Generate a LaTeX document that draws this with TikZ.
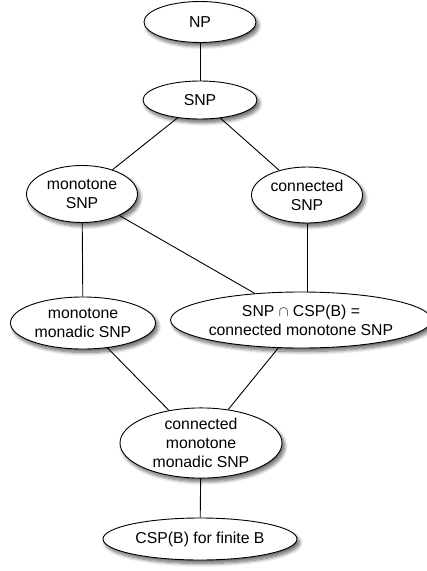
\documentclass[tikz,border=0pt]{standalone}
\usepackage{fontspec}
\setmainfont{Liberation Sans}
\usetikzlibrary{shapes.geometric,shadows.blur}
\begin{document}
\begin{tikzpicture}[x=1pt,y=-1pt,
  ell/.style={ellipse,draw,line width=0.9pt,fill=white,inner sep=0pt,
    align=center,font=\fontsize{15.8}{19}\selectfont,
    blur shadow={shadow xshift=2.5pt,shadow yshift=-3.5pt,shadow blur radius=3.5pt,shadow blur steps=8,shadow opacity=60}},
  conn/.style={line width=0.9pt}]
\useasboundingbox (0,0) rectangle (427,571);
\node[ell,minimum width=112pt,minimum height=41pt] (np) at (200,22) {NP};
\node[ell,minimum width=114pt,minimum height=38pt] (snp) at (200,100) {SNP};
\node[ell,minimum width=111pt,minimum height=57pt] (mono) at (82,194) {monotone\\SNP};
\node[ell,minimum width=111pt,minimum height=56pt] (csnp) at (307,195) {connected\\SNP};
\node[ell,minimum width=145pt,minimum height=52pt] (mm) at (83,323) {monotone\\monadic SNP};
\node[ell,minimum width=237pt,minimum height=56pt] (inter) at (301,320) {SNP $\cap$ CSP(B) =\\connected monotone SNP};
\node[ell,minimum width=162pt,minimum height=70pt] (cmm) at (201,443) {connected\\monotone\\monadic SNP};
\node[ell,minimum width=194pt,minimum height=42pt] (csp) at (200,539) {CSP(B) for finite B};
\draw[conn] (np) -- (snp);
\draw[conn] (snp) -- (mono);
\draw[conn] (snp) -- (csnp);
\draw[conn] (mono) -- (mm);
\draw[conn] (mono) -- (inter);
\draw[conn] (csnp.south) -- (csnp.south |- inter.north);
\draw[conn] (mm) -- (cmm);
\draw[conn] (inter) -- (cmm);
\draw[conn] (cmm) -- (csp);
\end{tikzpicture}
\end{document}
